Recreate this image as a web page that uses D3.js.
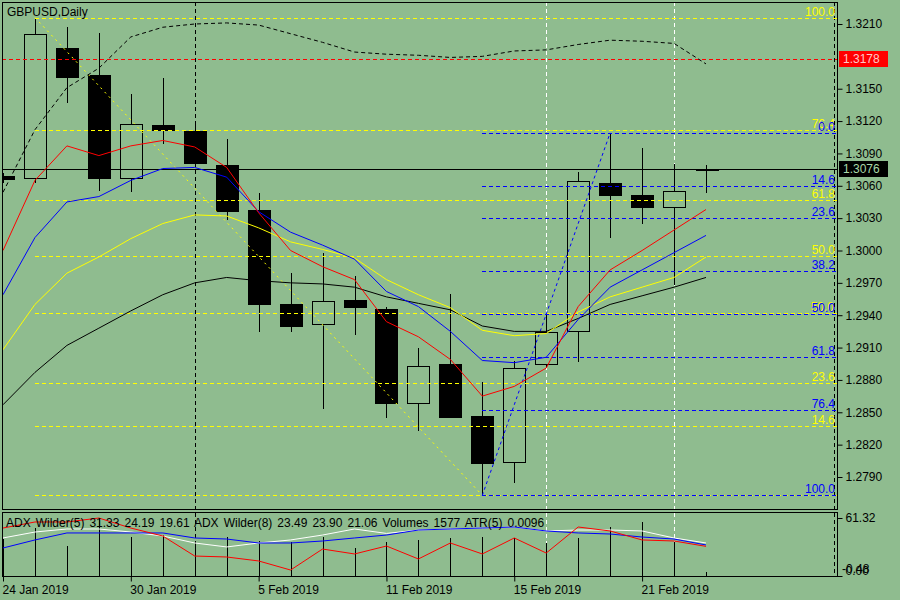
<!DOCTYPE html>
<html>
<head>
<meta charset="utf-8">
<script src="https://cdn.jsdelivr.net/npm/d3@7"></script>
<style>
  body { margin: 0; background: #8fbc8f; }
  svg text { font-family: "Liberation Sans", Arial, sans-serif; font-size: 12px; }
</style>
</head>
<body>
<svg id="chart" width="900" height="600"></svg>
<script>
// daily bars
var dates = ["24 Jan 2019", "25 Jan 2019", "28 Jan 2019", "29 Jan 2019", "30 Jan 2019", "31 Jan 2019",
    "1 Feb 2019", "4 Feb 2019", "5 Feb 2019", "6 Feb 2019", "7 Feb 2019", "8 Feb 2019",
    "11 Feb 2019", "12 Feb 2019", "13 Feb 2019", "14 Feb 2019", "15 Feb 2019", "18 Feb 2019",
    "19 Feb 2019", "20 Feb 2019", "21 Feb 2019", "22 Feb 2019", "25 Feb 2019"];
var opens  = [1.3069, 1.3067, 1.3188, 1.3163, 1.3067, 1.3116, 1.3111, 1.3079, 1.3038, 1.2950, 1.2932, 1.2954,
    1.2946, 1.2859, 1.2895, 1.2847, 1.2804, 1.2895, 1.2925, 1.3063, 1.3051, 1.3040, 1.3076];
var highs  = [1.3072, 1.3216, 1.3207, 1.3202, 1.3145, 1.3160, 1.3116, 1.3103, 1.3053, 1.2979, 1.2998, 1.2976,
    1.2948, 1.2910, 1.2960, 1.2878, 1.2898, 1.2942, 1.3073, 1.3109, 1.3095, 1.3080, 1.3079];
var lows   = [1.3063, 1.3063, 1.3137, 1.3055, 1.3054, 1.3099, 1.3078, 1.3028, 1.2924, 1.2924, 1.2853, 1.2922,
    1.2845, 1.2833, 1.2845, 1.2773, 1.2784, 1.2891, 1.2897, 1.3012, 1.3025, 1.2968, 1.3053];
var closes = [1.3066, 1.3201, 1.3161, 1.3067, 1.3117, 1.3112, 1.3081, 1.3037, 1.2950, 1.2930, 1.2953, 1.2948,
    1.2859, 1.2893, 1.2846, 1.2803, 1.2891, 1.2924, 1.3064, 1.3051, 1.3040, 1.3055, 1.3076];

// moving averages and envelope
var maRed    = [1.3000, 1.3065, 1.3097, 1.3088, 1.3097, 1.3102, 1.3096, 1.3077, 1.3035, 1.3000, 1.2985, 1.2973,
    1.2934, 1.2920, 1.2899, 1.2865, 1.2874, 1.2891, 1.2948, 1.2982, 1.3000, 1.3019, 1.3038];
var maBlue   = [1.2959, 1.3012, 1.3045, 1.3050, 1.3065, 1.3076, 1.3077, 1.3068, 1.3036, 1.3017, 1.3005, 1.2992,
    1.2962, 1.2948, 1.2925, 1.2898, 1.2896, 1.2901, 1.2936, 1.2966, 1.2982, 1.2998, 1.3014];
var maYellow = [1.2908, 1.2950, 1.2979, 1.2994, 1.3011, 1.3025, 1.3033, 1.3032, 1.3021, 1.3008, 1.3001, 1.2993,
    1.2973, 1.2959, 1.2947, 1.2926, 1.2921, 1.2923, 1.2943, 1.2957, 1.2966, 1.2975, 1.2994];
var maBlack  = [1.2857, 1.2887, 1.2912, 1.2928, 1.2944, 1.2959, 1.2970, 1.2975, 1.2972, 1.2970, 1.2969, 1.2966,
    1.2957, 1.2951, 1.2945, 1.2930, 1.2925, 1.2925, 1.2937, 1.2950, 1.2958, 1.2966, 1.2975];
var envelope = [1.3054, 1.3112, 1.3151, 1.3169, 1.3198, 1.3207, 1.3210, 1.3211, 1.3209, 1.3201, 1.3193, 1.3184,
    1.3182, 1.3181, 1.3179, 1.3180, 1.3185, 1.3186, 1.3191, 1.3195, 1.3194, 1.3192, 1.3173];

// lower window
var volumes  = [14500, 19000, 11900, 23000, 15400, 16200, 13900, 15400, 13900, 13500, 15400, 11100,
    13500, 14300, 15000, 15400, 15000, 13100, 15000, 19400, 21400, 13500, 1577];
var adxRed   = [50.7, 57.1, 57.1, 61.3, 50.7, 42.3, 21.1, 20.1, 15.9, 6.3, 28.5, 23.3,
    31.7, 18.0, 34.9, 23.3, 40.2, 24.3, 51.8, 47.6, 38.1, 37.0, 31.33];
var adxWhite = [40.2, 46.5, 49.7, 49.7, 46.5, 42.3, 34.9, 30.7, 34.9, 38.1, 43.3, 49.7,
    45.0, 48.6, 49.7, 50.7, 51.8, 47.6, 48.6, 48.6, 47.6, 40.2, 34.9];
var adxBlue  = [29.6, 38.1, 45.5, 45.5, 45.5, 45.5, 40.2, 39.1, 34.9, 34.9, 37.0, 40.2,
    43.3, 48.6, 49.7, 50.7, 51.8, 47.6, 45.5, 44.4, 41.2, 39.1, 32.8];

// fibonacci anchors
var fibLevels = [0, 14.6, 23.6, 38.2, 50.0, 61.8, 76.4, 100.0];
var fibYellow = { from: 1, to: 15, high: 1.3216, low: 1.2773 };
var fibBlue   = { from: 15, to: 19, high: 1.3109, low: 1.2773 };

// ticks and marker lines
var priceTicks = [1.3210, 1.3150, 1.3120, 1.3090, 1.3060, 1.3030, 1.3000, 1.2970, 1.2940, 1.2910, 1.2880, 1.2850, 1.2820, 1.2790];
var dateTicks = [0, 4, 8, 12, 16, 20];
var alertPrice = 1.3178;
var lastPrice = 1.3076;
var vLinesBlack = [6];
var vLinesWhite = [17, 21];

var bg = "#8fbc8f";
var svg = d3.select("#chart");
var L = 2, R = 837, mainTop = 2, mainBottom = 509, indTop = 512, indBottom = 576;

var x = d3.scaleLinear().domain([0, 22]).range([3, 706]);
var y = d3.scaleLinear().domain([1.2790, 1.3210]).range([477, 24]);
var yInd = d3.scaleLinear().domain([0, 61.32]).range([576, 518]);
var yVol = d3.scaleLinear().domain([0, 23000]).range([576, 518]);

svg.append("rect").attr("width", 900).attr("height", 600).attr("fill", bg);

var defs = svg.append("defs");
defs.append("clipPath").attr("id", "clipMain").append("rect")
    .attr("x", L).attr("y", mainTop).attr("width", R - L).attr("height", mainBottom - mainTop);
defs.append("clipPath").attr("id", "clipInd").append("rect")
    .attr("x", L).attr("y", indTop).attr("width", R - L).attr("height", indBottom - indTop);

var px = function (v) { return Math.round(v) + 0.5; };

// vertical separators (both windows)
var vg = svg.append("g").attr("shape-rendering", "crispEdges");
vLinesBlack.forEach(function (i) {
    vg.append("line").attr("x1", px(x(i))).attr("x2", px(x(i))).attr("y1", mainTop).attr("y2", indBottom)
        .attr("stroke", "#000").attr("stroke-dasharray", "4,3");
});
vLinesWhite.forEach(function (i) {
    vg.append("line").attr("x1", px(x(i))).attr("x2", px(x(i))).attr("y1", mainTop).attr("y2", indBottom)
        .attr("stroke", "#fff").attr("stroke-dasharray", "4,3");
});
vg.append("line").attr("x1", 834.5).attr("x2", 834.5).attr("y1", mainTop).attr("y2", indBottom)
    .attr("stroke", "#000").attr("stroke-dasharray", "4,3");

// main window
var main = svg.append("g").attr("clip-path", "url(#clipMain)");

// candles
var candles = main.append("g").attr("shape-rendering", "crispEdges");
dates.forEach(function (d, i) {
    var cx = px(x(i));
    candles.append("line").attr("x1", cx).attr("x2", cx)
        .attr("y1", y(highs[i])).attr("y2", y(lows[i])).attr("stroke", "#000");
    var top = Math.round(y(Math.max(opens[i], closes[i])));
    var bot = Math.round(y(Math.min(opens[i], closes[i])));
    var bull = closes[i] >= opens[i];
    if (bot - top < 1) {
        candles.append("line").attr("x1", cx - 11).attr("x2", cx + 12)
            .attr("y1", top + 0.5).attr("y2", top + 0.5).attr("stroke", "#000").attr("stroke-width", 2);
    } else if (bull) {
        candles.append("rect").attr("x", cx - 11).attr("y", top + 0.5).attr("width", 22).attr("height", bot - top)
            .attr("fill", bg).attr("stroke", "#000");
    } else {
        candles.append("rect").attr("x", cx - 11.5).attr("y", top).attr("width", 23).attr("height", bot - top + 1)
            .attr("fill", "#000");
    }
});

// horizontal lines
var hl = main.append("g").attr("shape-rendering", "crispEdges");
hl.append("line").attr("x1", L).attr("x2", R).attr("y1", px(y(alertPrice))).attr("y2", px(y(alertPrice)))
    .attr("stroke", "#ff0000").attr("stroke-dasharray", "4,3");
hl.append("line").attr("x1", L).attr("x2", R).attr("y1", px(y(lastPrice))).attr("y2", px(y(lastPrice)))
    .attr("stroke", "#000");

// fibonacci
function drawFib(f, color, up, diagDash, skipLabels, labelShadow) {
    var g = main.append("g");
    var startX = x(f.from);
    var levelPrice = function (lv) {
        return up ? f.low + lv / 100 * (f.high - f.low) : f.high - lv / 100 * (f.high - f.low);
    };
    fibLevels.forEach(function (lv) {
        var yy = px(y(levelPrice(lv)));
        g.append("line").attr("x1", startX).attr("x2", R).attr("y1", yy).attr("y2", yy)
            .attr("stroke", color).attr("stroke-dasharray", "4,3").attr("shape-rendering", "crispEdges");
        if (skipLabels.indexOf(lv) < 0) {
            if (labelShadow && labelShadow.indexOf(lv) >= 0) {
                g.append("text").attr("x", 834).attr("y", yy - 4).attr("text-anchor", "end")
                    .attr("fill", "#ffff00").text(lv.toFixed(1));
            }
            g.append("text").attr("x", 835).attr("y", yy - 3).attr("text-anchor", "end")
                .attr("fill", color).text(lv.toFixed(1));
        }
    });
    var p1 = up ? f.high : f.low, p2 = up ? f.low : f.high;
    g.append("line").attr("x1", x(f.from)).attr("y1", y(p1)).attr("x2", x(f.to)).attr("y2", y(p2))
        .attr("stroke", color).attr("stroke-dasharray", diagDash);
}
drawFib(fibYellow, "#ffff00", true, "2,4", [0, 38.2], null);
drawFib(fibBlue, "#0000ff", false, "3,3", [], [50.0]);

// envelope and averages
var line = d3.line().x(function (d, i) { return x(i); }).y(function (d) { return y(d); });
main.append("path").datum(envelope).attr("d", line).attr("fill", "none")
    .attr("stroke", "#000").attr("stroke-dasharray", "4,3");
main.append("path").datum(maBlack).attr("d", line).attr("fill", "none").attr("stroke", "#000");
main.append("path").datum(maYellow).attr("d", line).attr("fill", "none").attr("stroke", "#ffff00");
main.append("path").datum(maBlue).attr("d", line).attr("fill", "none").attr("stroke", "#0000ff");
main.append("path").datum(maRed).attr("d", line).attr("fill", "none").attr("stroke", "#ff0000");

main.append("text").attr("x", 7).attr("y", 16).attr("fill", "#000").text("GBPUSD,Daily");

// indicator window
var ind = svg.append("g").attr("clip-path", "url(#clipInd)");
ind.append("g").attr("shape-rendering", "crispEdges").selectAll("line").data(volumes).enter().append("line")
    .attr("x1", function (d, i) { return px(x(i)); })
    .attr("x2", function (d, i) { return px(x(i)); })
    .attr("y1", yVol(0)).attr("y2", function (d) { return yVol(d); })
    .attr("stroke", "#000");
var iline = d3.line().x(function (d, i) { return x(i); }).y(function (d) { return yInd(d); });
ind.append("path").datum(adxWhite).attr("d", iline).attr("fill", "none").attr("stroke", "#fff");
ind.append("path").datum(adxBlue).attr("d", iline).attr("fill", "none").attr("stroke", "#0000ff");
ind.append("path").datum(adxRed).attr("d", iline).attr("fill", "none").attr("stroke", "#ff0000");
ind.append("text").attr("x", 6).attr("y", 527).attr("fill", "#000").attr("word-spacing", "1.7px")
    .text("ADX Wilder(5) 31.33 24.19 19.61 ADX Wilder(8) 23.49 23.90 21.06 Volumes 1577 ATR(5) 0.0096");

// frames
var frames = svg.append("g").attr("fill", "none").attr("stroke", "#000").attr("shape-rendering", "crispEdges");
frames.append("rect").attr("x", L + 0.5).attr("y", mainTop + 0.5).attr("width", R - L).attr("height", mainBottom - mainTop);
frames.append("rect").attr("x", L + 0.5).attr("y", indTop + 0.5).attr("width", R - L).attr("height", indBottom - indTop);

// price axis
var yAxis = d3.axisRight(y).tickValues(priceTicks).tickSize(5).tickPadding(3).tickFormat(d3.format(".4f"));
var ya = svg.append("g").attr("transform", "translate(" + (R + 0.5) + ",0)").call(yAxis);
ya.select(".domain").remove();
ya.selectAll("text").attr("font-size", 12).attr("font-family", null).attr("fill", "#000");

// price markers
function marker(price, fill, txt) {
    var yy = y(price);
    svg.append("rect").attr("x", 839).attr("y", Math.round(yy) - 8).attr("width", 49).attr("height", 16).attr("fill", fill);
    svg.append("text").attr("x", 843).attr("y", yy + 4.5).attr("fill", txt).text(d3.format(".4f")(price));
}
marker(alertPrice, "#ff0000", "#ffc8c8");
marker(lastPrice, "#000", "#a8d8a8");

// indicator axis
var indAxis = d3.axisRight(yInd).tickValues([61.32, 0]).tickSize(5).tickPadding(3).tickFormat(d3.format(".2f"));
var ia = svg.append("g").attr("transform", "translate(" + (R + 0.5) + ",0)").call(indAxis);
ia.select(".domain").remove();
ia.selectAll("text").attr("font-size", 12).attr("font-family", null).attr("fill", "#000")
    .attr("dy", function (d) { return d === 0 ? "-0.1em" : "0.32em"; });
svg.append("text").attr("x", 842).attr("y", yInd(0) - 3).attr("fill", "#000").text("-0.48");

// date axis
var xAxis = d3.axisBottom(x).tickValues(dateTicks).tickSize(5).tickPadding(4)
    .tickFormat(function (i) { return dates[i]; });
var xa = svg.append("g").attr("transform", "translate(0," + (indBottom + 0.5) + ")").call(xAxis);
xa.select(".domain").remove();
xa.selectAll("text").attr("font-size", 12).attr("font-family", null).attr("fill", "#000")
    .attr("text-anchor", "start").attr("x", -1);
</script>
</body>
</html>
